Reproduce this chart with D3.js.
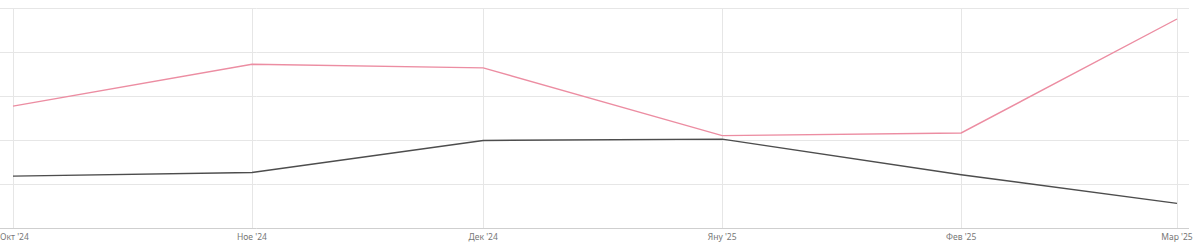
<!DOCTYPE html>
<html>
<head>
<meta charset="utf-8">
<script src="https://cdn.jsdelivr.net/npm/d3@7"></script>
<style>
  body { margin: 0; background: #fff; }
  svg { display: block; font-family: "Noto Sans", "DejaVu Sans", sans-serif; }
  .grid line { stroke: #e6e6e6; stroke-width: 1; }
  .axis-line { stroke: #cfcfcf; stroke-width: 1; }
  .tick-label { fill: #777; font-size: 8.5px; }
</style>
</head>
<body>
<script>
// months (first day of each)
const months = ['2024-10-01', '2024-11-01', '2024-12-01', '2025-01-01', '2025-02-01', '2025-03-01'];
const monthLabels = ["Окт '24", "Ное '24", "Дек '24", "Яну '25", "Фев '25", "Мар '25"];
// values (no y labels shown, arbitrary units)
const pinkValues = [2.77, 3.72, 3.64, 2.10, 2.16, 4.75];
const darkValues = [1.18, 1.26, 1.99, 2.02, 1.21, 0.56];
const yTicks = [0, 1, 2, 3, 4, 5];

const size = { width: 1200, height: 249 };
const plot = { left: 13, right: 1177, top: 8, bottom: 228, gridRight: 1189 };

const dates = months.map(d => new Date(d + 'T00:00:00'));

const x = d3.scaleTime()
  .domain(d3.extent(dates))
  .range([plot.left, plot.right]);

const y = d3.scaleLinear()
  .domain([0, 5])
  .range([plot.bottom, plot.top]);

const svg = d3.select('body').append('svg')
  .attr('width', size.width)
  .attr('height', size.height);

// horizontal grid
svg.append('g')
  .attr('class', 'grid')
  .selectAll('line')
  .data(yTicks.slice(1))
  .enter()
  .append('line')
  .attr('x1', 0)
  .attr('x2', plot.gridRight)
  .attr('y1', d => Math.round(y(d)) + 0.5)
  .attr('y2', d => Math.round(y(d)) + 0.5);

// vertical grid
svg.append('g')
  .attr('class', 'grid')
  .selectAll('line')
  .data(dates)
  .enter()
  .append('line')
  .attr('x1', d => Math.round(x(d)) + 0.5)
  .attr('x2', d => Math.round(x(d)) + 0.5)
  .attr('y1', plot.top)
  .attr('y2', plot.bottom);

// bottom axis line
svg.append('line')
  .attr('class', 'axis-line')
  .attr('x1', 0)
  .attr('x2', plot.gridRight)
  .attr('y1', Math.round(y(0)) + 0.5)
  .attr('y2', Math.round(y(0)) + 0.5);

// month labels (first one pinned to the left edge so it isn't clipped)
svg.append('g')
  .selectAll('text')
  .data(dates)
  .enter()
  .append('text')
  .attr('class', 'tick-label')
  .attr('x', (d, i) => (i === 0 ? 0 : x(d)))
  .attr('y', 240)
  .attr('text-anchor', (d, i) => (i === 0 ? 'start' : 'middle'))
  .text((d, i) => monthLabels[i]);

const line = d3.line()
  .x(d => x(d.date))
  .y(d => y(d.value));

const series = [
  { values: darkValues, color: '#4d4d4d' },
  { values: pinkValues, color: '#ec8da2' },
];

series.forEach((s) => {
  svg.append('path')
    .datum(s.values.map((v, i) => ({ date: dates[i], value: v })))
    .attr('fill', 'none')
    .attr('stroke', s.color)
    .attr('stroke-width', 1.4)
    .attr('d', line);
});
</script>
</body>
</html>
